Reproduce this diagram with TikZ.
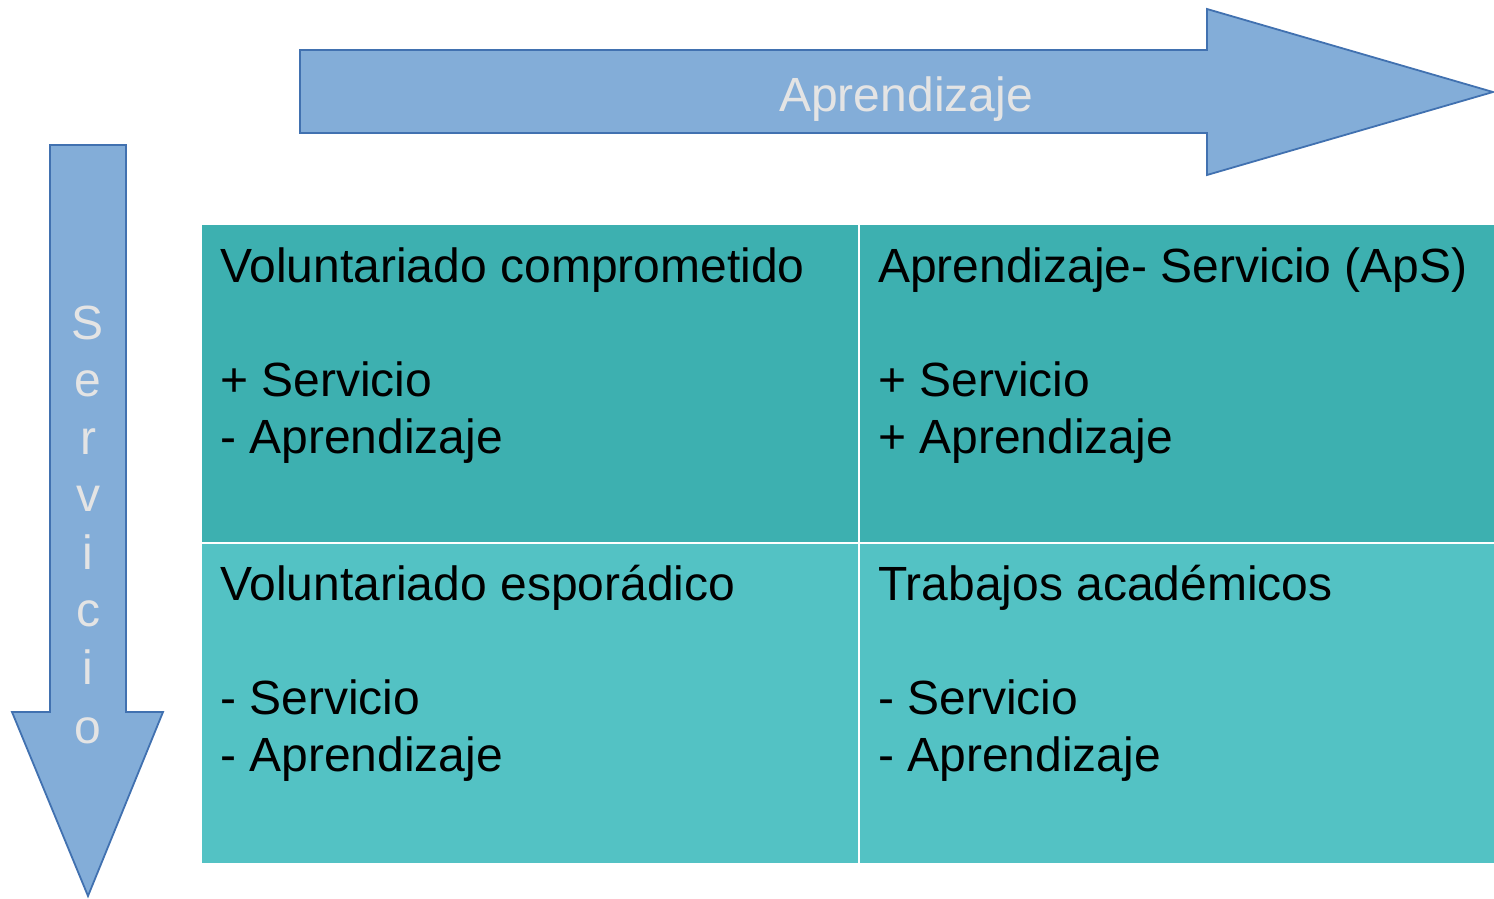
\documentclass[tikz,border=0pt]{standalone}
\usepackage{fontspec}
\setmainfont{Liberation Sans}
\definecolor{arrowfill}{RGB}{131,173,216}
\definecolor{arrowline}{RGB}{65,113,176}
\definecolor{toprow}{RGB}{61,176,176}
\definecolor{botrow}{RGB}{83,194,196}
\definecolor{labelgray}{RGB}{228,228,228}
\begin{document}
\begin{tikzpicture}[x=1pt,y=-1pt,
  bigarrow/.style={fill=arrowfill,draw=arrowline,line width=1.8pt,line join=miter},
  celltext/.style={anchor=base west,inner sep=0pt,font=\fontsize{48}{57}\selectfont,align=left,text=black},
  arrowlabel/.style={inner sep=0pt,font=\fontsize{48}{57}\selectfont,text=labelgray}]
\useasboundingbox (0,0) rectangle (1494,898);
% horizontal arrow
\draw[bigarrow] (300,50) -- (1207,50) -- (1207,9) -- (1493,92) -- (1207,175) -- (1207,133) -- (300,133) -- cycle;
\node[arrowlabel,anchor=base] (apr) at (906,111) {Aprendizaje};
% vertical arrow
\draw[bigarrow] (50,145) -- (126,145) -- (126,712) -- (163,712) -- (88,896) -- (12,712) -- (50,712) -- cycle;
\foreach \l/\y [count=\i] in {S/339,e/396,r/454,v/511,i/569,c/626,i/684,o/743}{
  \node[arrowlabel,anchor=base] (s\i) at (88,\y) {\l};
}
% table
\fill[toprow] (202,225) rectangle (1494,543);
\fill[botrow] (202,543) rectangle (1494,863);
\draw[white,line width=1.5pt] (202,543) -- (1494,543);
\draw[white,line width=1.5pt] (859,225) -- (859,863);
\node[celltext] (c11) at (220,453) {Voluntariado comprometido\\[57pt]+ Servicio\\- Aprendizaje};
\node[celltext] (c12) at (878,453) {Aprendizaje- Servicio (ApS)\\[57pt]+ Servicio\\+ Aprendizaje};
\node[celltext] (c21) at (220,771) {Voluntariado esporádico\\[57pt]- Servicio\\- Aprendizaje};
\node[celltext] (c22) at (878,771) {Trabajos académicos\\[57pt]- Servicio\\- Aprendizaje};
\end{tikzpicture}
\end{document}
